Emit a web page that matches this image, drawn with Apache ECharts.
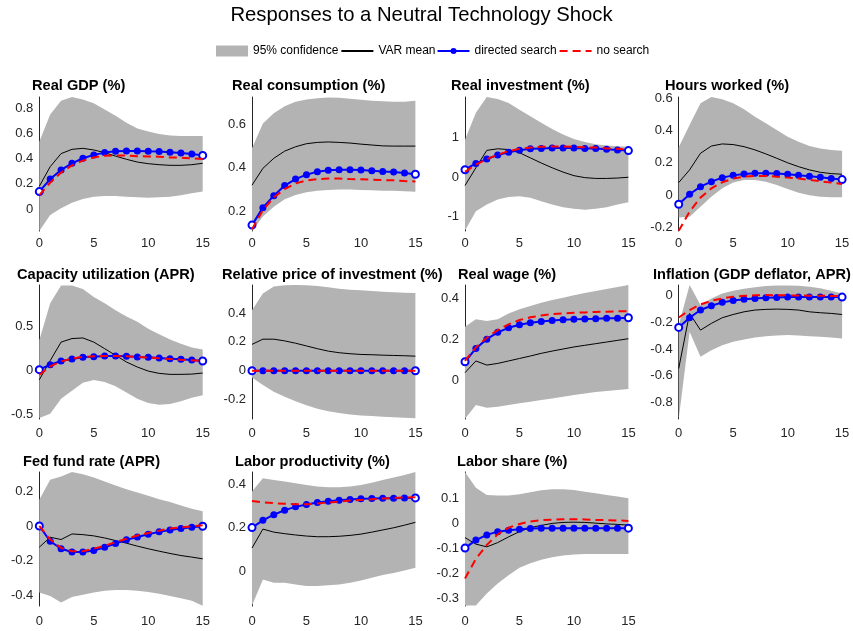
<!DOCTYPE html>
<html><head><meta charset="utf-8">
<script src="https://cdn.jsdelivr.net/npm/echarts@6/dist/echarts.min.js"></script>
<style>html,body{margin:0;padding:0;background:#fff}#chart{width:853px;height:631px}</style>
</head><body><div id="chart"></div>
<script>
// ---------- DATA ----------
const horizons = [0,1,2,3,4,5,6,7,8,9,10,11,12,13,14,15];
const xTicks = [0,5,10,15];

// Real GDP (%)
const gdpLower = [-0.175,-0.048,0.005,0.05,0.08,0.098,0.103,0.103,0.098,0.093,0.09,0.093,0.098,0.11,0.125,0.138];
const gdpUpper = [0.535,0.75,0.86,0.89,0.87,0.84,0.79,0.74,0.686,0.64,0.615,0.596,0.585,0.58,0.58,0.58];
const gdpVar = [0.18,0.336,0.44,0.474,0.482,0.469,0.448,0.42,0.395,0.373,0.36,0.352,0.347,0.347,0.352,0.363];
const gdpDirected = [0.138,0.238,0.31,0.363,0.403,0.43,0.448,0.458,0.461,0.461,0.458,0.456,0.45,0.445,0.437,0.426];
const gdpNoSearch = [0.11,0.21,0.29,0.347,0.384,0.41,0.424,0.426,0.424,0.42,0.418,0.416,0.41,0.408,0.403,0.397];
const gdpTicks = [0,0.2,0.4,0.6,0.8];
const gdpRange = [-0.175,0.89];

// Real consumption (%)
const consLower = [0.11,0.176,0.221,0.255,0.275,0.287,0.295,0.298,0.3,0.3,0.298,0.297,0.295,0.294,0.292,0.29];
const consUpper = [0.489,0.603,0.649,0.682,0.702,0.713,0.718,0.722,0.72,0.716,0.711,0.707,0.704,0.702,0.702,0.707];
const consVar = [0.32,0.397,0.443,0.476,0.496,0.51,0.516,0.518,0.516,0.513,0.508,0.504,0.5,0.499,0.499,0.499];
const consDirected = [0.137,0.217,0.272,0.318,0.348,0.368,0.382,0.388,0.391,0.391,0.389,0.386,0.383,0.38,0.376,0.37];
const consNoSearch = [0.118,0.206,0.264,0.302,0.328,0.342,0.348,0.35,0.35,0.348,0.347,0.345,0.343,0.342,0.339,0.337];
const consTicks = [0.2,0.4,0.6];
const consRange = [0.11,0.724];

// Real investment (%)
const invLower = [-1.35,-0.86,-0.69,-0.565,-0.5,-0.48,-0.52,-0.61,-0.69,-0.76,-0.8,-0.82,-0.8,-0.76,-0.69,-0.63];
const invUpper = [0.95,1.63,2.03,1.98,1.88,1.71,1.54,1.38,1.22,1.08,0.97,0.89,0.835,0.8,0.785,0.77];
const invVar = [-0.21,0.24,0.68,0.72,0.7,0.62,0.49,0.36,0.24,0.13,0.04,-0.01,-0.03,-0.03,-0.02,0];
const invDirected = [0.19,0.35,0.46,0.56,0.63,0.68,0.72,0.73,0.74,0.74,0.74,0.73,0.73,0.71,0.69,0.675];
const invNoSearch = [0.135,0.32,0.46,0.57,0.66,0.72,0.75,0.77,0.78,0.78,0.77,0.76,0.75,0.73,0.72,0.7];
const invTicks = [-1,0,1];
const invRange = [-1.36,2.03];

// Hours worked (%)
const hoursLower = [-0.14,-0.134,-0.072,-0.01,0.042,0.077,0.094,0.094,0.083,0.062,0.037,0.014,-0.002,-0.01,-0.014,-0.014];
const hoursUpper = [0.296,0.435,0.569,0.608,0.594,0.569,0.532,0.486,0.445,0.404,0.362,0.331,0.304,0.288,0.28,0.275];
const hoursVar = [0.077,0.156,0.259,0.304,0.317,0.313,0.3,0.28,0.255,0.228,0.2,0.176,0.156,0.141,0.133,0.129];
const hoursDirected = [-0.057,0.005,0.052,0.083,0.108,0.122,0.131,0.135,0.135,0.133,0.129,0.122,0.116,0.11,0.102,0.096];
const hoursNoSearch = [-0.222,-0.103,-0.016,0.042,0.079,0.102,0.114,0.118,0.118,0.114,0.108,0.102,0.094,0.085,0.077,0.069];
const hoursTicks = [-0.2,0,0.2,0.4,0.6];
const hoursRange = [-0.223,0.608];

// Capacity utilization (APR)
const capLower = [-0.54,-0.49,-0.32,-0.23,-0.14,-0.11,-0.13,-0.18,-0.25,-0.32,-0.37,-0.39,-0.38,-0.35,-0.31,-0.28];
const capUpper = [0.34,0.76,0.96,0.96,0.92,0.83,0.76,0.68,0.61,0.55,0.47,0.41,0.35,0.3,0.26,0.235];
const capVar = [-0.106,0.11,0.32,0.36,0.367,0.32,0.246,0.17,0.095,0.038,-0.008,-0.034,-0.045,-0.045,-0.042,-0.03];
const capDirected = [0.008,0.064,0.106,0.129,0.148,0.155,0.163,0.163,0.159,0.152,0.148,0.14,0.133,0.125,0.117,0.106];
const capNoSearch = [-0.05,0.045,0.102,0.133,0.152,0.159,0.163,0.163,0.159,0.152,0.144,0.137,0.129,0.121,0.114,0.106];
const capTicks = [-0.5,0,0.5];
const capRange = [-0.55,0.966];

// Relative price of investment (%)
const priceLower = [-0.047,-0.099,-0.146,-0.181,-0.212,-0.24,-0.264,-0.282,-0.294,-0.304,-0.311,-0.315,-0.32,-0.322,-0.326,-0.33];
const priceUpper = [0.419,0.536,0.584,0.593,0.595,0.594,0.588,0.579,0.569,0.562,0.558,0.553,0.548,0.544,0.541,0.539];
const priceVar = [0.183,0.219,0.219,0.207,0.191,0.172,0.153,0.136,0.125,0.118,0.113,0.111,0.108,0.106,0.104,0.101];
const priceDirected = [0,0,0,0,0,0,0,0,0,0,0,0,0,0,0,0];
const priceNoSearch = [0,0,0,0,0,0,0,0,0,0,0,0,0,0,0,0];
const priceTicks = [-0.2,0,0.2,0.4];
const priceRange = [-0.335,0.595];

// Real wage (%)
const wageLower = [-0.185,-0.118,-0.131,-0.126,-0.118,-0.11,-0.102,-0.094,-0.086,-0.078,-0.07,-0.062,-0.055,-0.05,-0.045,-0.04];
const wageUpper = [0.262,0.298,0.29,0.298,0.327,0.347,0.363,0.379,0.392,0.403,0.415,0.426,0.436,0.445,0.455,0.465];
const wageVar = [0.039,0.096,0.076,0.084,0.096,0.108,0.12,0.133,0.144,0.154,0.164,0.172,0.18,0.188,0.196,0.204];
const wageDirected = [0.092,0.157,0.202,0.235,0.257,0.272,0.282,0.288,0.293,0.296,0.298,0.3,0.301,0.303,0.304,0.306];
const wageNoSearch = [0.096,0.162,0.209,0.246,0.274,0.295,0.308,0.317,0.324,0.327,0.33,0.332,0.334,0.335,0.337,0.337];
const wageTicks = [0,0.2,0.4];
const wageRange = [-0.186,0.465];

// Inflation (GDP deflator, APR)
const inflLower = [-0.92,-0.272,-0.458,-0.409,-0.372,-0.347,-0.329,-0.315,-0.305,-0.3,-0.297,-0.3,-0.305,-0.31,-0.315,-0.322];
const inflUpper = [-0.223,0.075,-0.074,-0.025,0.012,0.032,0.047,0.059,0.067,0.072,0.072,0.069,0.062,0.05,0.032,0.012];
const inflVar = [-0.545,-0.136,-0.26,-0.21,-0.168,-0.144,-0.124,-0.111,-0.106,-0.104,-0.106,-0.111,-0.124,-0.131,-0.136,-0.144];
const inflDirected = [-0.24,-0.168,-0.111,-0.079,-0.054,-0.04,-0.03,-0.025,-0.02,-0.017,-0.015,-0.015,-0.015,-0.015,-0.015,-0.015];
const inflNoSearch = [-0.166,-0.111,-0.069,-0.042,-0.025,-0.012,-0.005,-0.002,0,-0.001,-0.002,-0.003,-0.004,-0.005,-0.006,-0.008];
const inflTicks = [-0.8,-0.6,-0.4,-0.2,0];
const inflRange = [-0.92,0.075];

// Fed fund rate (APR)
const fedLower = [-0.383,-0.402,-0.44,-0.408,-0.396,-0.383,-0.373,-0.368,-0.368,-0.373,-0.379,-0.389,-0.402,-0.415,-0.43,-0.458];
const fedUpper = [0.15,0.265,0.284,0.31,0.297,0.278,0.255,0.232,0.211,0.192,0.173,0.154,0.137,0.118,0.099,0.084];
const fedVar = [-0.122,-0.065,-0.078,-0.046,-0.05,-0.057,-0.069,-0.084,-0.099,-0.116,-0.131,-0.145,-0.158,-0.17,-0.179,-0.189];
const fedDirected = [0,-0.088,-0.131,-0.15,-0.15,-0.141,-0.122,-0.101,-0.08,-0.063,-0.048,-0.034,-0.023,-0.015,-0.008,-0.002];
const fedNoSearch = [0,-0.078,-0.126,-0.145,-0.145,-0.131,-0.114,-0.093,-0.074,-0.055,-0.04,-0.027,-0.015,-0.008,-0.002,0.004];
const fedTicks = [-0.4,-0.2,0,0.2];
const fedRange = [-0.46,0.31];

// Labor productivity (%)
const prodLower = [-0.158,-0.038,-0.053,-0.053,-0.061,-0.068,-0.068,-0.065,-0.061,-0.053,-0.043,-0.03,-0.018,-0.008,0.003,0.015];
const prodUpper = [0.365,0.426,0.418,0.411,0.403,0.395,0.388,0.385,0.385,0.388,0.395,0.406,0.418,0.43,0.441,0.455];
const prodVar = [0.106,0.193,0.179,0.172,0.166,0.161,0.158,0.158,0.16,0.164,0.17,0.179,0.189,0.199,0.211,0.224];
const prodDirected = [0.2,0.233,0.259,0.28,0.295,0.306,0.315,0.321,0.325,0.329,0.332,0.333,0.335,0.335,0.336,0.336];
const prodNoSearch = [0.322,0.316,0.312,0.309,0.307,0.307,0.31,0.315,0.319,0.324,0.327,0.33,0.333,0.335,0.338,0.339];
const prodTicks = [0,0.2,0.4];
const prodRange = [-0.16,0.455];

// Labor share (%)
const shareLower = [-0.33,-0.33,-0.282,-0.242,-0.209,-0.179,-0.161,-0.147,-0.137,-0.13,-0.126,-0.124,-0.124,-0.124,-0.124,-0.124];
const shareUpper = [0.205,0.142,0.113,0.111,0.111,0.116,0.124,0.132,0.136,0.136,0.133,0.126,0.12,0.113,0.107,0.1];
const shareVar = [-0.058,-0.084,-0.095,-0.078,-0.055,-0.034,-0.018,-0.009,-0.001,0.003,0.004,0.003,0,-0.003,-0.005,-0.008];
const shareDirected = [-0.1,-0.068,-0.047,-0.034,-0.028,-0.024,-0.021,-0.02,-0.02,-0.02,-0.02,-0.02,-0.02,-0.02,-0.02,-0.02];
const shareNoSearch = [-0.222,-0.143,-0.087,-0.045,-0.018,-0.003,0.007,0.012,0.014,0.016,0.016,0.015,0.013,0.012,0.011,0.009];
const shareTicks = [-0.3,-0.2,-0.1,0,0.1];
const shareRange = [-0.332,0.205];

const panelTitles = ['Real GDP (%)','Real consumption (%)','Real investment (%)','Hours worked (%)',
  'Capacity utilization (APR)','Relative price of investment (%)','Real wage (%)','Inflation (GDP deflator, APR)',
  'Fed fund rate (APR)','Labor productivity (%)','Labor share (%)'];
const legendNames = ['95% confidence','VAR mean','directed search','no search'];
const mainTitle = 'Responses to a Neutral Technology Shock';

// ---------- TABLE built from arrays ----------
const panels = [
  [gdpLower,gdpUpper,gdpVar,gdpDirected,gdpNoSearch,gdpTicks,gdpRange],
  [consLower,consUpper,consVar,consDirected,consNoSearch,consTicks,consRange],
  [invLower,invUpper,invVar,invDirected,invNoSearch,invTicks,invRange],
  [hoursLower,hoursUpper,hoursVar,hoursDirected,hoursNoSearch,hoursTicks,hoursRange],
  [capLower,capUpper,capVar,capDirected,capNoSearch,capTicks,capRange],
  [priceLower,priceUpper,priceVar,priceDirected,priceNoSearch,priceTicks,priceRange],
  [wageLower,wageUpper,wageVar,wageDirected,wageNoSearch,wageTicks,wageRange],
  [inflLower,inflUpper,inflVar,inflDirected,inflNoSearch,inflTicks,inflRange],
  [fedLower,fedUpper,fedVar,fedDirected,fedNoSearch,fedTicks,fedRange],
  [prodLower,prodUpper,prodVar,prodDirected,prodNoSearch,prodTicks,prodRange],
  [shareLower,shareUpper,shareVar,shareDirected,shareNoSearch,shareTicks,shareRange]
];

// ---------- LAYOUT / STYLE ----------
const FONT = "'Liberation Sans', Arial, Helvetica, sans-serif";
const GREY = '#b3b3b3';
const AX = '#262626';
const colLefts = [39.3, 252, 465, 678.7];
const rowTops = [97, 285, 472];
const rowLabelMargin = [6, 8, 9];
const gridW = 163.4, gridH = 134;
const titleX = [32, 232, 451, 665, 17, 222, 458, 653, 23, 235, 457];
const titleRowY = [86, 274.5, 461.5];
const blueLegendIcon = 'path://M0,4.5H32V6.5H0Z M13,5.5a3,3 0 1,1 6,0a3,3 0 1,1 -6,0Z';

const pts = arr => horizons.map((h, i) => [h, arr[i]]);

const grids = [], xAxes = [], yAxes = [], series = [], graphics = [];
panels.forEach((p, i) => {
  const [lower, upper, varMean, directed, noSearch, ticks, range] = p;
  const row = Math.floor(i / 4), col = i % 4;
  grids.push({left: colLefts[col], top: rowTops[row], width: gridW, height: gridH});
  xAxes.push({type: 'value', gridIndex: i, min: 0, max: 15, interval: 5,
    axisLine: {show: false, onZero: false}, axisTick: {show: false}, splitLine: {show: false},
    axisLabel: {color: AX, fontSize: 13, fontFamily: FONT, margin: rowLabelMargin[row], customValues: xTicks}});
  yAxes.push({type: 'value', gridIndex: i, min: range[0], max: range[1],
    axisLine: {show: true, onZero: false, lineStyle: {color: AX, width: 1}},
    axisTick: {show: false}, splitLine: {show: false},
    axisLabel: {color: AX, fontSize: 13, fontFamily: FONT, margin: 6, customValues: ticks}});
  // confidence band as a single polygon through the axis scales
  series.push({type: 'custom', name: legendNames[0], xAxisIndex: i, yAxisIndex: i,
    data: horizons.map((h, k) => [h, lower[k], upper[k]]),
    encode: {x: 0, y: [1, 2]}, itemStyle: {color: GREY}, silent: true, z: 1,
    renderItem: (params, api) => {
      if (params.dataIndex !== 0) return null;
      const top = horizons.map((h, k) => api.coord([h, upper[k]]));
      const bot = horizons.map((h, k) => api.coord([h, lower[k]])).reverse();
      return {type: 'polygon', shape: {points: top.concat(bot)}, style: {fill: GREY, stroke: null}};
    }});
  series.push({type: 'line', name: legendNames[1], xAxisIndex: i, yAxisIndex: i, data: pts(varMean),
    symbol: 'none', silent: true, lineStyle: {color: '#000', width: 1}, itemStyle: {color: '#000'}, z: 2});
  series.push({type: 'line', name: legendNames[2], xAxisIndex: i, yAxisIndex: i, data: pts(directed),
    symbol: (v, params) => (params.dataIndex === 0 || params.dataIndex === horizons.length - 1) ? 'emptyCircle' : 'circle',
    symbolSize: 7, showSymbol: true, silent: true,
    lineStyle: {color: '#0000ff', width: 2}, itemStyle: {color: '#0000ff', borderWidth: 2}, z: 3});
  series.push({type: 'line', name: legendNames[3], xAxisIndex: i, yAxisIndex: i, data: pts(noSearch),
    symbol: 'none', silent: true, lineStyle: {color: '#ff0000', width: 2, type: [8, 5]},
    itemStyle: {color: '#ff0000'}, z: 4});
  graphics.push({type: 'text', x: titleX[i], y: titleRowY[row], silent: true,
    style: {text: panelTitles[i], font: 'bold 14.6px ' + FONT, fill: '#000', align: 'left', verticalAlign: 'middle'}});
});
graphics.push({type: 'text', x: 421.5, y: 15.5, silent: true,
  style: {text: mainTitle, font: '20.3px ' + FONT, fill: '#000', align: 'center', verticalAlign: 'middle'}});

const chart = echarts.init(document.getElementById('chart'), null, {renderer: 'canvas'});
chart.setOption({
  animation: false,
  backgroundColor: '#fff',
  grid: grids, xAxis: xAxes, yAxis: yAxes, series: series,
  legend: {left: 216, top: 45, padding: 0, itemGap: 2, itemWidth: 32, itemHeight: 11, selectedMode: false,
    textStyle: {fontSize: 12, color: '#000', fontFamily: FONT},
    data: [
      {name: legendNames[0], icon: 'rect', itemStyle: {color: GREY}},
      {name: legendNames[1], itemStyle: {opacity: 0}},
      {name: legendNames[2], icon: blueLegendIcon, itemStyle: {color: '#0000ff'}},
      {name: legendNames[3], itemStyle: {opacity: 0}}
    ]},
  graphic: graphics
});
</script></body></html>
